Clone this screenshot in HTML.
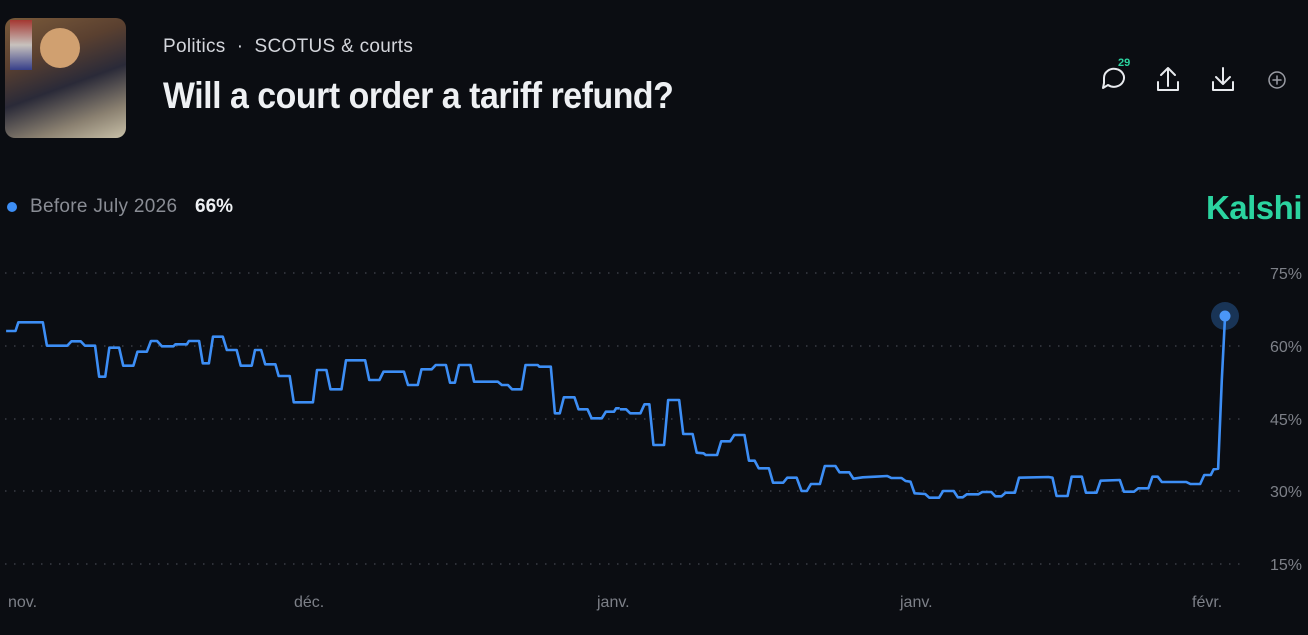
<!DOCTYPE html>
<html><head><meta charset="utf-8"><style>
body{margin:0;width:1308px;height:635px;background:#0b0d12;overflow:hidden;font-family:"Liberation Sans",sans-serif;position:relative}
.a{position:absolute;white-space:nowrap}
</style></head><body>
<div class="a" style="left:5px;top:18px;width:121px;height:120px;border-radius:10px;background:linear-gradient(160deg,#7a5a3a 0%,#5a4030 30%,#2a2a38 55%,#8a8070 80%,#c8c0a8 100%)"></div>
<div class="a" style="left:10px;top:20px;width:22px;height:50px;background:linear-gradient(#b03030,#e0e0e0 50%,#3040a0);opacity:.8"></div>
<div class="a" style="left:40px;top:28px;width:40px;height:40px;border-radius:50%;background:#d0a070"></div>
<div class="a" style="left:163px;top:36px;font-size:19px;color:#d4d6dc;letter-spacing:0.3px">Politics &nbsp;·&nbsp; SCOTUS &amp; courts</div>
<div class="a" style="left:163px;top:75px;font-size:37px;font-weight:bold;color:#eef0f3;transform:scaleX(0.915);transform-origin:0 0;letter-spacing:-0.5px">Will a court order a tariff refund?</div>
<svg class="a" style="left:0;top:0" width="1308" height="635">
<g fill="none" stroke="#e8eaee" stroke-width="2" stroke-linecap="round" stroke-linejoin="round">
<path d="M1104 78a10 9 0 1 1 4 7l-5 3 1-5z"/>
<path d="M1168 68v18M1161 75l7-7 7 7M1158 82v8h20v-8"/>
<path d="M1223 68v15M1216 77l7 7 7-7M1213 82v8h20v-8"/>
<circle cx="1277" cy="80" r="8" stroke-width="1.5" stroke="#9a9ca4"/><path d="M1273 80h8M1277 76v8" stroke="#9a9ca4" stroke-width="1.5"/>
</g>
<text x="1118" y="66" font-size="11" font-weight="bold" fill="#2bd4a0" font-family="Liberation Sans">29</text>
<g stroke="#3a3d45" stroke-width="1.5" stroke-dasharray="1.5 7.5">
<line x1="5" y1="273" x2="1245" y2="273"/><line x1="5" y1="346" x2="1245" y2="346"/><line x1="5" y1="419" x2="1245" y2="419"/><line x1="5" y1="491" x2="1245" y2="491"/><line x1="5" y1="564" x2="1245" y2="564"/>
</g>
<g font-size="16" fill="#7d8088" font-family="Liberation Sans" text-anchor="end">
<text x="1302" y="279">75%</text><text x="1302" y="352">60%</text><text x="1302" y="425">45%</text><text x="1302" y="497">30%</text><text x="1302" y="570">15%</text>
</g>
<g font-size="16" fill="#7d8088" font-family="Liberation Sans">
<text x="8" y="607">nov.</text><text x="294" y="607">déc.</text><text x="597" y="607">janv.</text><text x="900" y="607">janv.</text><text x="1192" y="607">févr.</text>
</g>
<g fill="none" stroke="#3d8ef5" stroke-width="2.6" stroke-linejoin="round">
<polyline vector-effect="non-scaling-stroke" transform="translate(0,300) scale(0.408,0.3333)" points="15,93 38,93 45,67 105,67 115,137 165,137 175,124 198,124 208,137 233,137 243,230 258,230 268,143 292,143 302,197 327,197 337,155 360,155 370,123 385,123 397,139 425,139 430,133 458,133 463,123 488,123 497,190 512,190 522,110 546,110 556,150 580,150 590,197 617,197 625,150 640,150 650,193 675,193 683,228 710,228 720,307 767,307 777,210 800,210 810,268 837,268 848,181 895,181 905,240 930,240 940,215 990,215 1000,255 1024,255 1033,208 1058,208 1068,195 1093,195 1103,248 1115,248 1125,195 1153,195 1162,245 1220,245 1230,255 1245,255 1255,268 1278,268 1288,195 1318,195 1322,200 1350,200 1360,340 1372,340 1382,292 1408,292 1418,328 1440,328 1450,355 1475,355 1485,335 1505,335 1510,325 1519,325"/>
<polyline vector-effect="non-scaling-stroke" transform="translate(620,380) scale(0.408,0.3333)" points="0,88 15,88 25,100 50,100 60,73 72,73 82,195 108,195 118,60 145,60 155,162 178,162 188,218 205,220 210,225 238,225 248,184 270,184 280,165 305,165 316,242 330,242 340,265 365,265 375,308 400,308 410,293 433,293 445,333 458,333 468,312 490,312 502,258 528,258 538,277 562,277 572,296 595,292 625,290 655,288 665,294 690,294 700,303 712,305 722,340 748,342 758,353 782,353 792,333 818,333 828,352 840,352 850,343 878,343 888,336 910,336 920,349 935,349 945,338 968,338 978,293 1050,291 1060,293 1070,348 1097,348 1107,290 1132,290 1142,338 1168,338 1178,302 1225,300 1235,335 1260,335 1270,325 1295,325 1305,290 1318,290 1328,306 1388,306 1398,312 1422,312 1432,285 1448,285 1455,268 1466,266 1475,0 1483,-192"/>
</g>
<circle cx="1225" cy="316" r="14" fill="#3d8ef5" opacity="0.3"/>
<circle cx="1225" cy="316" r="5.5" fill="#4a96f7"/>
<circle cx="12" cy="207" r="5" fill="#3d8ef5"/>
</svg>
<div class="a" style="left:30px;top:196px;font-size:19px;color:#8a8d95;letter-spacing:0.3px">Before July 2026</div>
<div class="a" style="left:195px;top:196px;font-size:19px;font-weight:bold;color:#eef0f3">66%</div>
<div class="a" style="right:6px;top:189px;font-size:33px;font-weight:bold;color:#2bd4a0;letter-spacing:-0.5px">Kalshi</div>
</body></html>
